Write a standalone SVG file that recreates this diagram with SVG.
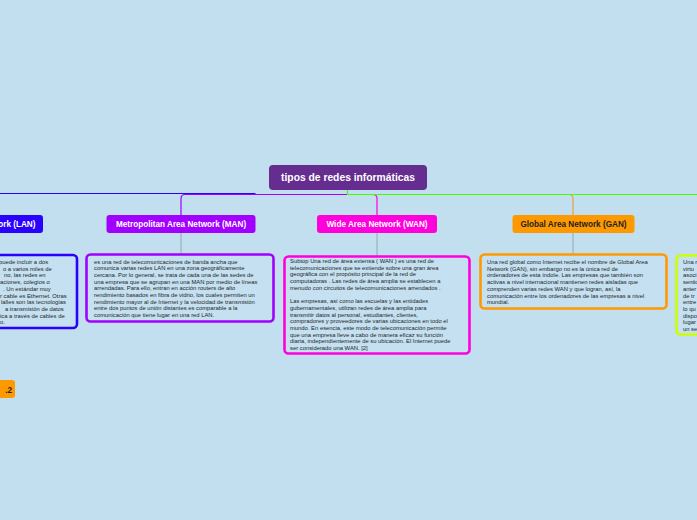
<svg xmlns="http://www.w3.org/2000/svg" width="697" height="520" viewBox="0 0 697 520">
<style>
.bg{fill:#c2dff0}
.lbl{font-family:"Liberation Sans",Arial,sans-serif;font-weight:bold;font-size:8.2px;text-anchor:middle}
.body{font-family:"Liberation Sans",Arial,sans-serif;font-size:5.85px;fill:#262626}
.box{fill:#c4e0f1;stroke-width:2.6}
.con{fill:none;stroke-width:1.2}
.sub{fill:none;stroke:#96a6b3;stroke-width:1}
</style>
<rect class="bg" x="0" y="0" width="697" height="520"/>
<g id="connectors">
<path class="con" stroke="#a100ff" d="M347.5,194.5 H185 Q181,194.5 181,198.5 V215"/>
<path class="con" stroke="#ff00dd" d="M347.5,194.5 H373 Q377,194.5 377,198.5 V215"/>
<path class="con" stroke="#e8a040" d="M347.5,194.5 H569 Q573,194.5 573,198.5 V215"/>
<path class="con" stroke="#2a00ff" d="M255.5,193.5 H0"/>
<path class="con" stroke="#44ff00" d="M347.5,190 V194.5 H697"/>
<path class="sub" d="M181,233 V254"/>
<path class="sub" d="M377,233 V256"/>
<path class="sub" d="M573,233 V254"/>
</g>
<g id="title">
<rect x="269" y="165" width="158" height="25" rx="4" fill="#662d91"/>
<text x="348" y="180.8" font-family="Liberation Sans,Arial,sans-serif" font-weight="bold" font-size="10.3" fill="#fff" text-anchor="middle">tipos de redes informáticas</text>
</g>
<g id="lan">
<rect x="-10" y="215" width="53" height="18" rx="3" fill="#2a00ff"/>
<text class="lbl" x="35.5" y="227" fill="#fff" style="text-anchor:end">Local Area Network (LAN)</text>
</g>
<g id="lan-text">
<rect class="box" x="-10" y="255" width="87" height="73" rx="4" stroke="#2a00ff"/>
<text class="body">
<tspan x="-1" y="264">puede incluir a dos</tspan>
<tspan x="3" y="270.7">o a varios miles de</tspan>
<tspan x="4" y="277.4">no, las redes en</tspan>
<tspan x="0" y="284.1">aciones, colegios o</tspan>
<tspan x="3" y="290.8">. Un estándar muy</tspan>
<tspan x="0" y="297.5">r cable es Ethernet. Otras</tspan>
<tspan x="1" y="304.2">lalles son las tecnologías</tspan>
<tspan x="5" y="310.9">a transmisión de datos</tspan>
<tspan x="0" y="317.6">ica a través de cables de</tspan>
<tspan x="0" y="324.3">o.</tspan>
</text>
</g>
<g id="man">
<rect x="106.5" y="215" width="149" height="18" rx="3" fill="#a100ff"/>
<text class="lbl" x="181" y="227" fill="#fff">Metropolitan Area Network (MAN)</text>
</g>
<g id="man-text">
<rect class="box" x="86.5" y="254.5" width="187" height="67" rx="4" stroke="#a100ff"/>
<text class="body">
<tspan x="94" y="263.5">es una red de telecomunicaciones de banda ancha que</tspan>
<tspan x="94" y="270.2">comunica varias redes LAN en una zona geográficamente</tspan>
<tspan x="94" y="276.9">cercana. Por lo general, se trata de cada una de las sedes de</tspan>
<tspan x="94" y="283.6">una empresa que se agrupan en una MAN por medio de líneas</tspan>
<tspan x="94" y="290.3">arrendadas. Para ello, entran en acción routers de alto</tspan>
<tspan x="94" y="297">rendimiento basados en fibra de vidrio, los cuales permiten un</tspan>
<tspan x="94" y="303.7">rendimiento mayor al de Internet y la velocidad de transmisión</tspan>
<tspan x="94" y="310.4">entre dos puntos de unión distantes es comparable a la</tspan>
<tspan x="94" y="317.1">comunicación que tiene lugar en una red LAN.</tspan>
</text>
</g>
<g id="wan">
<rect x="317" y="215" width="120" height="18" rx="3" fill="#ff00dd"/>
<text class="lbl" x="377" y="227" fill="#fff">Wide Area Network (WAN)</text>
</g>
<g id="wan-text">
<rect class="box" x="284.5" y="256.5" width="185" height="97" rx="4" stroke="#ff00dd"/>
<text class="body">
<tspan x="290" y="263">Subtop Una red de área extensa ( WAN ) es una red de</tspan>
<tspan x="290" y="269.7">telecomunicaciones que se extiende sobre una gran área</tspan>
<tspan x="290" y="276.4">geográfica con el propósito principal de la red de</tspan>
<tspan x="290" y="283.1">computadoras . Las redes de área amplia se establecen a</tspan>
<tspan x="290" y="289.8">menudo con circuitos de telecomunicaciones arrendados .</tspan>
<tspan x="290" y="303.2">Las empresas, así como las escuelas y las entidades</tspan>
<tspan x="290" y="309.9">gubernamentales, utilizan redes de área amplia para</tspan>
<tspan x="290" y="316.6">transmitir datos al personal, estudiantes, clientes,</tspan>
<tspan x="290" y="323.3">compradores y proveedores de varias ubicaciones en todo el</tspan>
<tspan x="290" y="330">mundo. En esencia, este modo de telecomunicación permite</tspan>
<tspan x="290" y="336.7">que una empresa lleve a cabo de manera eficaz su función</tspan>
<tspan x="290" y="343.4">diaria, independientemente de su ubicación. El Internet puede</tspan>
<tspan x="290" y="350.1">ser considerado una WAN. [2]</tspan>
</text>
</g>
<g id="gan">
<rect x="512.5" y="215" width="122" height="18" rx="3" fill="#ff9900"/>
<text class="lbl" x="573.5" y="227" fill="#222">Global Area Network (GAN)</text>
</g>
<g id="gan-text">
<rect class="box" x="480.5" y="254.5" width="186" height="54" rx="4" stroke="#ff9900"/>
<text class="body">
<tspan x="487" y="264">Una red global como Internet recibe el nombre de Global Area</tspan>
<tspan x="487" y="270.7">Network (GAN), sin embargo no es la única red de</tspan>
<tspan x="487" y="277.4">ordenadores de esta índole. Las empresas que también son</tspan>
<tspan x="487" y="284.1">activas a nivel internacional mantienen redes aisladas que</tspan>
<tspan x="487" y="290.8">comprenden varias redes WAN y que logran, así, la</tspan>
<tspan x="487" y="297.5">comunicación entre los ordenadores de las empresas a nivel</tspan>
<tspan x="487" y="304.2">mundial.</tspan>
</text>
</g>
<g id="right-text">
<rect class="box" x="676.5" y="255.5" width="40" height="79" rx="4" stroke="#ccff00"/>
<text class="body">
<tspan x="683" y="264">Una r</tspan>
<tspan x="683" y="270.7">virtu</tspan>
<tspan x="683" y="277.4">asoci</tspan>
<tspan x="683" y="284.1">sentid</tspan>
<tspan x="683" y="290.8">anter</tspan>
<tspan x="683" y="297.5">de tr</tspan>
<tspan x="683" y="304.2">entre</tspan>
<tspan x="683" y="310.9">lo qu</tspan>
<tspan x="683" y="317.6">dispo</tspan>
<tspan x="683" y="324.3">lugar</tspan>
<tspan x="683" y="331">un se</tspan>
</text>
</g>
<g id="small-node">
<rect x="-10" y="380" width="25" height="18" rx="3" fill="#ff9900"/>
<text class="lbl" x="12" y="392.5" fill="#222" style="text-anchor:end">.2</text>
</g>
</svg>
